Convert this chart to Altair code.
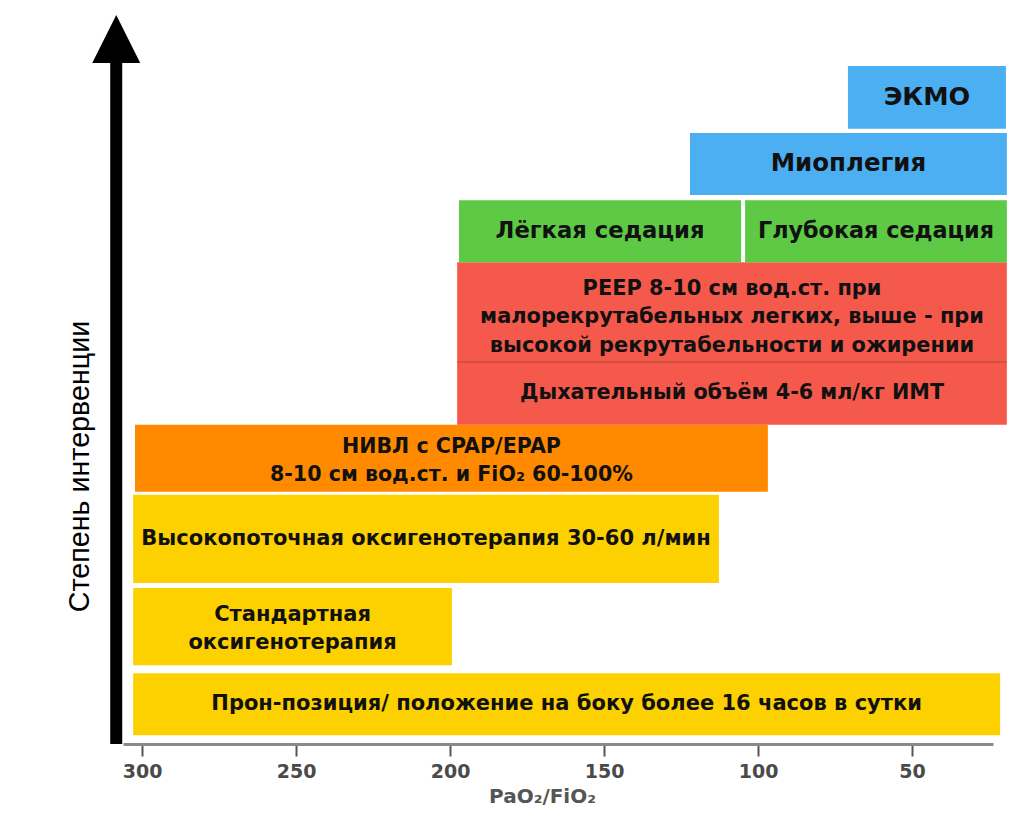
import altair as alt
import pandas as pd

# ---- data (PaO2/FiO2 ranges and intervention level) ----
labels = [
    "Прон-позиция/ положение на боку более 16 часов в сутки",
    "Стандартная\nоксигенотерапия",
    "Высокопоточная оксигенотерапия 30-60 л/мин",
    "НИВЛ с CPAP/EPAP\n8-10 см вод.ст. и FiO₂ 60-100%",
    "Дыхательный объём 4-6 мл/кг ИМТ",
    "PEEP 8-10 см вод.ст. при\nмалорекрутабельных легких, выше - при\nвысокой рекрутабельности и ожирении",
    "Лёгкая седация",
    "Глубокая седация",
    "Миоплегия",
    "ЭКМО",
]
x_start = [302.9, 302.9, 302.9, 302.3, 197.7, 197.7, 197.1, 104.2, 122.1, 70.8]
x_end = [21.4, 199.4, 112.7, 96.8, 19.2, 19.2, 105.5, 19.2, 19.2, 19.5]
y_low = [1.2, 10.8, 22.1, 34.6, 43.8, 52.4, 66.1, 66.1, 75.3, 84.4]
y_high = [9.7, 21.4, 34.2, 43.8, 52.4, 66.1, 74.6, 74.6, 83.8, 93.0]
group = ["yellow", "yellow", "yellow", "orange", "red", "red", "green", "green", "blue", "blue"]
font_size = [21.0, 21.0, 21.0, 20.6, 20.7, 20.9, 22.7, 22.3, 24.5, 25.5]

x_ticks = [300, 250, 200, 150, 100, 50]
x_domain = [306.2, 23.7]

arrow_x = [308.4]
arrow_base = [0.0]
arrow_top = [93.5]
arrow_head_y = [96.7]

sep_x0 = [197.7]
sep_x1 = [19.2]
sep_y = [52.4]

colors_domain = ["yellow", "orange", "red", "green", "blue"]
colors_range = ["#FDD000", "#FF8A00", "#F5594B", "#5DC945", "#4BAFF2"]

df = pd.DataFrame({
    "label": labels, "x0": x_start, "x1": x_end,
    "y0": y_low, "y1": y_high, "grp": group, "fs": font_size,
})
arrow_df = pd.DataFrame({"x": arrow_x, "y0": arrow_base, "y1": arrow_top, "yh": arrow_head_y})
sep_df = pd.DataFrame({"x0": sep_x0, "x1": sep_x1, "y": sep_y})

xscale = alt.Scale(domain=x_domain, nice=False, zero=False)
yscale = alt.Scale(domain=[0, 100], nice=False, zero=False)

x_axis = alt.Axis(
    values=x_ticks, title="PaO₂/FiO₂", grid=False,
    domainColor="#8a8a8a", domainWidth=3,
    tickColor="#555555", tickWidth=2, tickSize=12,
    labelFont="DejaVu Sans", labelFontWeight="bold", labelFontSize=19,
    labelColor="#4a4a4a", labelPadding=6,
    titleFont="DejaVu Sans", titleFontWeight="bold", titleFontSize=20,
    titleColor="#555555", titlePadding=5, titleX=419,
)
y_axis = alt.Axis(
    title="Степень интервенции", labels=False, ticks=False, domain=False, grid=False,
    titleFont="Liberation Sans", titleFontWeight="normal", titleFontSize=28.7,
    titleColor="#000000", titlePadding=29, titleY=451,
)

boxes = alt.Chart(df).mark_rect(stroke=None).encode(
    x=alt.X("x0:Q", scale=xscale, axis=x_axis),
    x2="x1:Q",
    y=alt.Y("y0:Q", scale=yscale, axis=y_axis),
    y2="y1:Q",
    color=alt.Color("grp:N", scale=alt.Scale(domain=colors_domain, range=colors_range), legend=None),
)

sep = alt.Chart(sep_df).mark_rule(color="#8a3a30", strokeWidth=1, opacity=0.6).encode(
    x=alt.X("x0:Q", scale=xscale),
    x2="x1:Q",
    y=alt.Y("y:Q", scale=yscale),
)

texts = alt.Chart(df).transform_calculate(
    xm="(datum.x0 + datum.x1) / 2",
    ym="(datum.y0 + datum.y1) / 2 + (length(split(datum.label, '\\n')) - 1) * 1.6",
).mark_text(
    font="DejaVu Sans", fontWeight="bold", color="#111111",
    align="center", baseline="middle", lineBreak="\n", lineHeight=28.5,
).encode(
    x=alt.X("xm:Q", scale=xscale),
    y=alt.Y("ym:Q", scale=yscale),
    text="label:N",
    size=alt.Size("fs:Q", scale=None, legend=None),
)

shaft = alt.Chart(arrow_df).mark_rule(color="#000000", strokeWidth=12).encode(
    x=alt.X("x:Q", scale=xscale),
    y=alt.Y("y0:Q", scale=yscale),
    y2="y1:Q",
)
head = alt.Chart(arrow_df).mark_point(
    shape="M -1 1 L 1 1 L 0 -1 Z", filled=True, color="#000000", opacity=1, size=2304,
).encode(
    x=alt.X("x:Q", scale=xscale),
    y=alt.Y("yh:Q", scale=yscale),
)

chart = alt.layer(boxes, sep, texts, shaft, head).properties(
    width=870, height=729,
    autosize=alt.AutoSizeParams(type="none"),
    padding={"left": 115, "top": 7, "right": 28, "bottom": 66},
    background="#ffffff",
).configure_view(stroke=None)

chart.save("out.html", embed_options={"renderer": "svg", "actions": False})
